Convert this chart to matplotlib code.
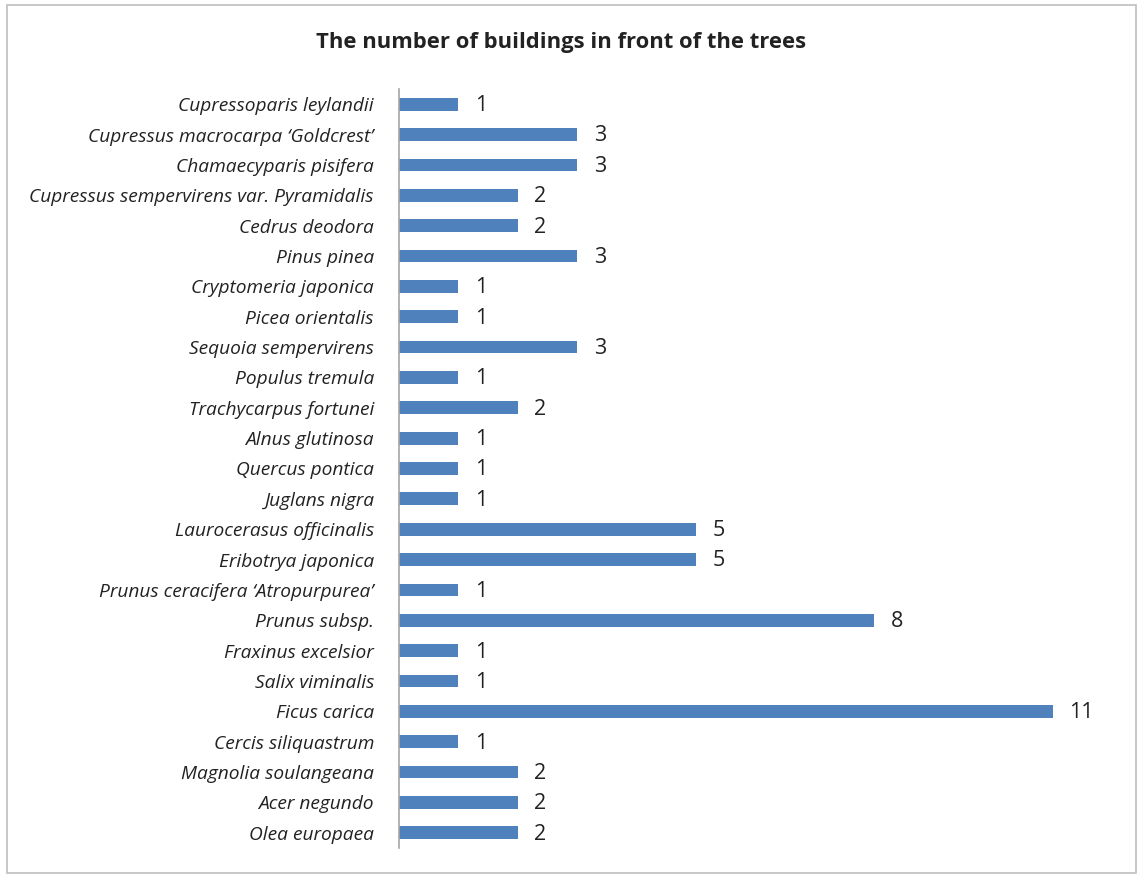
import numpy as np
import matplotlib.pyplot as plt
from matplotlib.patches import Rectangle

# categories top -> bottom, as in the picture
species = [
    "Cupressoparis leylandii",
    "Cupressus macrocarpa \u2018Goldcrest\u2019",
    "Chamaecyparis pisifera",
    "Cupressus sempervirens var. Pyramidalis",
    "Cedrus deodora",
    "Pinus pinea",
    "Cryptomeria japonica",
    "Picea orientalis",
    "Sequoia sempervirens",
    "Populus tremula",
    "Trachycarpus fortunei",
    "Alnus glutinosa",
    "Quercus pontica",
    "Juglans nigra",
    "Laurocerasus officinalis",
    "Eribotrya japonica",
    "Prunus ceracifera \u2018Atropurpurea\u2019",
    "Prunus subsp.",
    "Fraxinus excelsior",
    "Salix viminalis",
    "Ficus carica",
    "Cercis siliquastrum",
    "Magnolia soulangeana",
    "Acer negundo",
    "Olea europaea",
]
buildings = [1, 3, 3, 2, 2, 3, 1, 1, 3, 1, 2, 1, 1, 1, 5, 5, 1, 8, 1, 1, 11, 1, 2, 2, 2]

plt.rcParams['font.family'] = ['Open Sans', 'DejaVu Sans']

fig = plt.figure(figsize=(11.43, 8.77), dpi=100)
ax = fig.add_axes([0.349, 0.0331, 0.624, 0.8654])

y = np.arange(len(species))[::-1]
ax.barh(y, buildings, height=0.42, color='#4f81bd')

for yi, v in zip(y, buildings):
    ax.annotate(str(v), (v, yi), xytext=(12, -1), textcoords='offset points',
                ha='left', va='center', fontsize=15.5, color='#222222')

ax.set_yticks(y)
ax.set_yticklabels(species, fontstyle='italic', fontsize=13.8, color='#222222')
ax.tick_params(axis='y', length=0, pad=18)
ax.set_xticks([])
ax.set_xlim(0, 12)
ax.set_ylim(-0.5, len(species) - 0.5)

for s in ['top', 'right', 'bottom']:
    ax.spines[s].set_visible(False)
ax.spines['left'].set_color('#a6a6a6')
ax.spines['left'].set_linewidth(1.2)

fig.text(0.491, 0.952, 'The number of buildings in front of the trees',
         ha='center', va='center', fontsize=15.8, fontweight='bold', color='#222222')

# outer chart border
fig.patches.append(Rectangle((0.006, 0.004), 0.988, 0.99, transform=fig.transFigure,
                             fill=False, edgecolor='#bfbfbf', linewidth=1.2))

fig.savefig('out.png', dpi=100)
